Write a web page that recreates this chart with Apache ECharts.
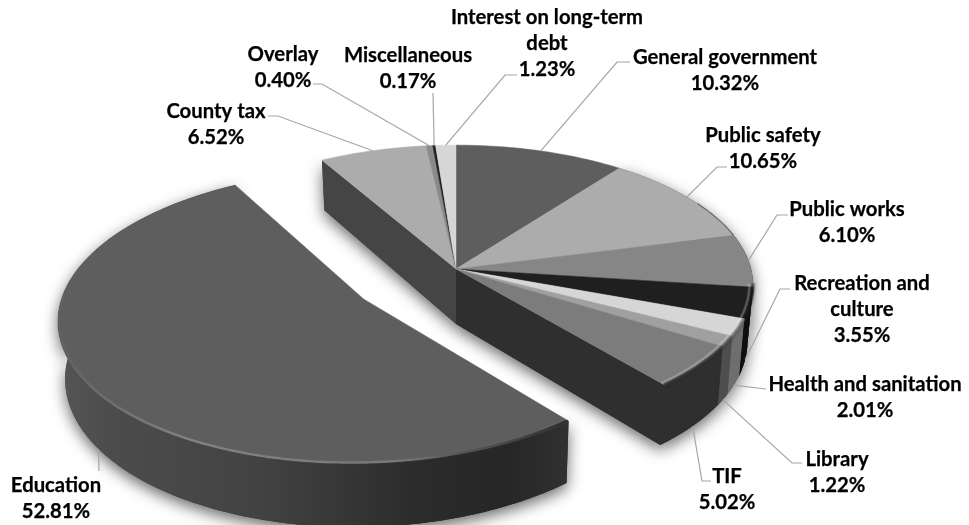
<!DOCTYPE html>
<html>
<head>
<meta charset="utf-8">
<style>html,body{margin:0;padding:0;background:#fff}#chart{width:969px;height:525px}</style>
<script src="https://cdn.jsdelivr.net/npm/echarts@6/dist/echarts.min.js"></script>
</head>
<body>
<div id="chart"></div>
<script>
// Expenditure shares, clockwise from twelve o'clock.
const categories = ['General government', 'Public safety', 'Public works', 'Recreation and\nculture',
  'Health and sanitation', 'Library', 'TIF', 'Education', 'County tax', 'Overlay', 'Miscellaneous',
  'Interest on long-term\ndebt'];
const shares = [10.32, 10.65, 6.10, 3.55, 2.01, 1.22, 5.02, 52.81, 6.52, 0.40, 0.17, 1.23];
const topColors = ['#5e5e5e', '#acacac', '#868686', '#1f1f1f', '#d6d6d6', '#a0a0a0', '#7c7c7c',
  '#5e5e5e', '#acacac', '#8a8a8a', '#1f1f1f', '#d6d6d6'];
const wallColors = ['#444', '#555', '#3a3a3a', '#0f0f0f', '#6e6e6e', '#4e4e4e', '#2f2f2f',
  null, '#454545', '#444', '#111', '#777'];
// Text centre, first line's y, and the leader's elbow and end beside the text.
const labelCentres = [[725, 57], [763, 135], [847, 209], [862, 283], [865, 384], [837, 459], [727, 476],
  [56, 485], [216, 111], [283, 54], [408, 55], [547, 17]];
const leaderBends = [[[617, 62], [630, 62]], [[717, 167], [727, 167]], [[777, 215], [788, 215]],
  [[780, 289], [790, 289]], [[766, 389], [766, 389]], [[792, 463], [802, 463]], [[702, 481], [711, 481]],
  [[99, 471], [99, 471]], [[278, 116], [268, 116]], [[322, 84], [313, 84]], [[433, 93], [433, 93]],
  [[505, 75], [517, 75]]];
const leaderOnWall = [false, false, false, true, true, true, true, true, false, false, false, false];

// Pie projection: a disc seen in perspective, with a slightly narrower lower face.
const view = { cx: 456, cy: 269, rx: 295, ry: 138, k: 0.114, depth: 55, taper: 0.982 };
const explodedIndex = 7;
const explodeBy = 0.372;

const total = shares.reduce((a, b) => a + b, 0);
const spans = [];
shares.reduce((acc, s) => { spans.push([acc / total * 360, (acc + s) / total * 360]); return acc + s; }, 0);

function offsetOf(i) {
  if (i !== explodedIndex) return [0, 0];
  const mid = (spans[i][0] + spans[i][1]) / 2 * Math.PI / 180;
  return [Math.sin(mid) * explodeBy, Math.cos(mid) * explodeBy];
}
function project(u, v, low) {
  const p = 1 / (1 + view.k * v);
  let x = view.rx * u * p, y = -view.ry * v * p;
  if (low) { x *= view.taper; y += view.depth * p; }
  return [view.cx + x, view.cy + y];
}
function rimPoint(i, deg, low, r) {
  const o = offsetOf(i), a = deg * Math.PI / 180, k = r === undefined ? 1 : r;
  return project(o[0] + Math.sin(a) * k, o[1] + Math.cos(a) * k, low);
}
function arc(i, from, to, low, r) {
  const pts = [], n = Math.max(2, Math.ceil(Math.abs(to - from)));
  for (let j = 0; j <= n; j++) pts.push(rimPoint(i, from + (to - from) * j / n, low, r));
  return pts;
}
function apex(i, low) { const o = offsetOf(i); return project(o[0], o[1], low); }

const educationWall = new echarts.graphic.LinearGradient(60, 0, 566, 0, [
  { offset: 0, color: '#555555' }, { offset: 0.1, color: '#4c4c4c' }, { offset: 0.4, color: '#424242' },
  { offset: 0.7, color: '#2c2c2c' }, { offset: 0.88, color: '#262626' }, { offset: 1, color: '#303030' }
], true);
const educationRim = new echarts.graphic.LinearGradient(60, 0, 566, 0, [
  { offset: 0, color: 'rgba(255,255,255,0.02)' }, { offset: 0.25, color: 'rgba(255,255,255,0.2)' },
  { offset: 0.6, color: 'rgba(255,255,255,0.16)' }, { offset: 0.78, color: 'rgba(60,60,60,0.35)' },
  { offset: 1, color: 'rgba(20,20,20,0.7)' }
], true);

const softShadow = { shadowBlur: 15, shadowColor: 'rgba(0,0,0,0.6)', shadowOffsetX: 0, shadowOffsetY: 5 };

// Solid shapes below the tops: the outer wall of a slice and, for the pie's
// first slice, the two flat faces left by the gap of the exploded slice.
function solidsOf(i) {
  const [a, b] = spans[i], parts = [];
  if (b > 75 && a < 300) {
    parts.push({ fill: wallColors[i] || educationWall, points: arc(i, a, b, false).concat(arc(i, b, a, true)) });
  }
  if (i === 0) {
    const [ca, cb] = spans[explodedIndex];
    parts.push({ fill: '#454545', points: [apex(i, false), rimPoint(i, cb, false), rimPoint(i, cb, true), apex(i, true)] });
    parts.push({ fill: '#2f2f2f', points: [apex(i, false), rimPoint(i, ca, false), rimPoint(i, ca, true), apex(i, true)] });
  }
  return parts;
}
function solidGroup(i, shadowed) {
  return { type: 'group', children: solidsOf(i).map(s => ({
    type: 'polygon', shape: { points: s.points },
    style: Object.assign({ fill: s.fill }, shadowed ? softShadow : {})
  })) };
}
function topOf(i) {
  const [a, b] = spans[i], fill = topColors[i], parts = [];
  const pts = [apex(i, false)].concat(arc(i, a, b, false));
  parts.push({ type: 'polygon', shape: { points: pts }, style: { fill, stroke: fill, lineWidth: 0.5 } });
  // Rounded edge catching the light along the rim.
  if (i === explodedIndex) {
    parts.push({ type: 'polyline', shape: { points: arc(i, a, 272, false, 0.996) },
      style: { fill: null, stroke: educationRim, lineWidth: 2.4, shadowBlur: 2, shadowColor: 'rgba(255,255,255,0.12)' } });
    return parts;
  }
  const from = Math.max(a, 96), to = Math.min(b, 268);
  if (to > from) {
    parts.push({ type: 'polyline', shape: { points: arc(i, from, to, false) },
      style: { fill: null, stroke: wallColors[i], lineWidth: 3, opacity: 0.55, shadowBlur: 3, shadowColor: '#333' } });
    parts.push({ type: 'polyline', shape: { points: arc(i, from, to, false, 0.988) },
      style: { fill: null, stroke: 'rgba(255,255,255,0.22)', lineWidth: 2.5, shadowBlur: 2, shadowColor: 'rgba(255,255,255,0.25)' } });
  } else {
    const f = Math.max(a, 60), t = Math.min(b, 100);
    if (t > f) parts.push({ type: 'polyline', shape: { points: arc(i, f, t, false) },
      style: { fill: null, stroke: '#5a5a5a', lineWidth: 1.2, opacity: 0.8 } });
  }
  return parts;
}
function leaderOf(i) {
  const mid = (spans[i][0] + spans[i][1]) / 2;
  const start = rimPoint(i, mid, leaderOnWall[i]);
  return { type: 'polyline', shape: { points: [start].concat(leaderBends[i]) },
    style: { fill: null, stroke: '#a6a6a6', lineWidth: 1.2 } };
}
function labelOf(i) {
  return { type: 'text', x: labelCentres[i][0], y: labelCentres[i][1] - 13,
    style: { text: categories[i] + '\n' + shares[i].toFixed(2) + '%', align: 'center', verticalAlign: 'top',
      font: 'bold 20.3px Lato', lineHeight: 26, fill: '#000', stroke: '#000', lineWidth: 0.25 } };
}

// Layers of the pie, back to front.
const layers = {
  shadows: i => solidGroup(i, true),
  walls: i => solidGroup(i, false),
  tops: i => ({ type: 'group', children: topOf(i) }),
  leaders: i => leaderOf(i),
  labels: i => labelOf(i)
};
const rows = shares.map((s, i) => [i, s]);
const series = Object.keys(layers).map((name, z) => ({
  type: 'custom', name, coordinateSystem: 'none', silent: true, animation: false, clip: false, z: z + 1,
  data: rows,
  renderItem: params => layers[name](params.dataIndex)
}));

const chart = echarts.init(document.getElementById('chart'), null, { renderer: 'canvas' });
chart.setOption({ backgroundColor: '#fff', animation: false, series });
</script>
</body>
</html>
